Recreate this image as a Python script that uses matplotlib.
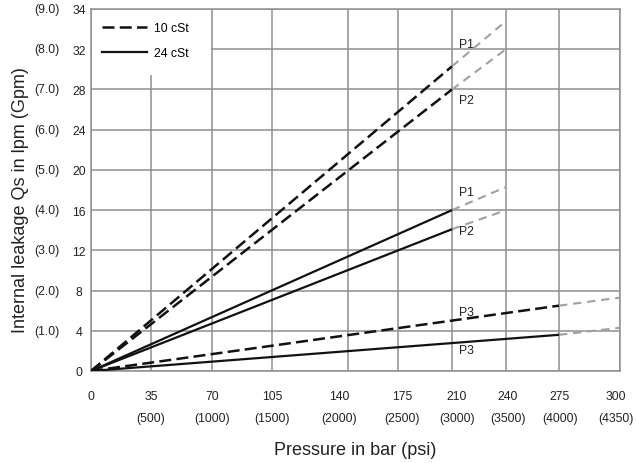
import numpy as np
import matplotlib
matplotlib.use("Agg")
import matplotlib.pyplot as plt
import matplotlib.transforms as mtransforms
from matplotlib.patches import Rectangle

plt.rcParams['font.family'] = ['Liberation Sans', 'DejaVu Sans']

# axis ticks (the chart's axes are not linear, ticks are evenly-ish spaced)
pressure_ticks = [0, 35, 70, 105, 140, 175, 210, 240, 275, 300]
psi_labels = ['', '(500)', '(1000)', '(1500)', '(2000)', '(2500)', '(3000)', '(3500)', '(4000)', '(4350)']
flow_ticks = [0, 4, 8, 12, 16, 20, 24, 28, 32, 34]
gpm_labels = ['', '(1.0)', '(2.0)', '(3.0)', '(4.0)', '(5.0)', '(6.0)', '(7.0)', '(8.0)', '(9.0)']

# leakage lines: measured part (black) and extrapolated part (gray)
p1_10_x = [0, 210]
p1_10_y = [0, 30.3]
p1_10_ext_x = [210, 240]
p1_10_ext_y = [30.3, 33.4]

p2_10_x = [0, 210]
p2_10_y = [0, 28.0]
p2_10_ext_x = [210, 240]
p2_10_ext_y = [28.0, 32.0]

p1_24_x = [0, 210]
p1_24_y = [0, 16.0]
p1_24_ext_x = [210, 240]
p1_24_ext_y = [16.0, 18.3]

p2_24_x = [0, 210]
p2_24_y = [0, 14.1]
p2_24_ext_x = [210, 240]
p2_24_ext_y = [14.1, 16.0]

p3_10_x = [0, 275]
p3_10_y = [0, 6.5]
p3_10_ext_x = [275, 300]
p3_10_ext_y = [6.5, 7.3]

p3_24_x = [0, 275]
p3_24_y = [0, 3.6]
p3_24_ext_x = [275, 300]
p3_24_ext_y = [3.6, 4.3]

# curve labels
curve_names = ['P1', 'P2', 'P1', 'P2', 'P3', 'P3']
curve_label_x = [214, 214, 214, 214, 214, 214]
curve_label_y = [32.25, 27.0, 17.8, 13.9, 5.9, 2.1]

# where each tick sits along the axis (pixel spacing taken from the chart)
x_grid_pos = np.array([0, 60, 121, 181, 257, 307, 361, 415, 468, 529], dtype=float)
y_grid_pos = np.arange(len(flow_ticks), dtype=float)
# small sideways shifts of the x tick labels (pixels), as in the chart
x_label_shift = [0, 0, 0, 0, -9, 4, 5, 2, 1, -4]


def x_fwd(v):
    return np.interp(v, pressure_ticks, x_grid_pos)


def x_inv(v):
    return np.interp(v, x_grid_pos, pressure_ticks)


def y_fwd(v):
    return np.interp(v, flow_ticks, y_grid_pos)


def y_inv(v):
    return np.interp(v, y_grid_pos, flow_ticks)


fig = plt.figure(figsize=(6.36, 4.64), dpi=100)
ax = fig.add_axes([91 / 636, 1 - 372 / 464, 529 / 636, 362 / 464])

ax.set_xscale('function', functions=(x_fwd, x_inv))
ax.set_yscale('function', functions=(y_fwd, y_inv))
ax.set_xlim(0, 300)
ax.set_ylim(0, 34)

grid_col = '#8f8f8f'
ax.set_axisbelow(True)
ax.grid(True, color=grid_col, linewidth=1.1)
for s in ax.spines.values():
    s.set_color(grid_col)
    s.set_linewidth(1.1)

# white area behind the legend
ax.add_patch(Rectangle((0.002, 0.818), 0.224, 0.18, transform=ax.transAxes,
                       facecolor='white', edgecolor='none', zorder=1))

black_dash = dict(color='#111111', linewidth=1.8, linestyle=(0, (4.8, 2.1)), zorder=3)
black_solid = dict(color='#111111', linewidth=1.6, linestyle='-', zorder=3)
gray_dash = dict(color='#a0a0a0', linewidth=1.5, linestyle=(0, (4, 2.8)), zorder=3)

ax.plot(p1_10_x, p1_10_y, **black_dash)
ax.plot(p2_10_x, p2_10_y, **black_dash)
ax.plot(p3_10_x, p3_10_y, **black_dash)
ax.plot(p1_24_x, p1_24_y, **black_solid)
ax.plot(p2_24_x, p2_24_y, **black_solid)
ax.plot(p3_24_x, p3_24_y, **black_solid)

for ex, ey in [(p1_10_ext_x, p1_10_ext_y), (p2_10_ext_x, p2_10_ext_y),
               (p1_24_ext_x, p1_24_ext_y), (p2_24_ext_x, p2_24_ext_y),
               (p3_10_ext_x, p3_10_ext_y), (p3_24_ext_x, p3_24_ext_y)]:
    ax.plot(ex, ey, **gray_dash)

for name, lx, ly in zip(curve_names, curve_label_x, curve_label_y):
    ax.text(lx, ly, name, fontsize=8.8, color='#222222', ha='left', va='center', zorder=4)

# legend
h1, = ax.plot([], [], label='10 cSt', **black_dash)
h2, = ax.plot([], [], label='24 cSt', **black_solid)
ax.legend(handles=[h1, h2], loc='upper left', bbox_to_anchor=(0.02, 0.963),
          frameon=False, fontsize=8.8, handlelength=3.7, handletextpad=0.6,
          labelspacing=1.05, borderpad=0, borderaxespad=0)

# ticks
ax.set_xticks(pressure_ticks)
ax.set_xticklabels([f'{p}\n{q}' for p, q in zip(pressure_ticks, psi_labels)],
                   fontsize=8.8, linespacing=2.05, color='#222222')
ax.set_yticks(flow_ticks)
ax.set_yticklabels([str(v) for v in flow_ticks], fontsize=8.8, color='#222222')
for lab in ax.get_yticklabels():
    lab.set_ha('center')
ax.tick_params(axis='y', length=0, pad=8.6)
ax.tick_params(axis='x', length=0, pad=14)
ax.minorticks_off()

for lab, dx in zip(ax.get_xticklabels(), x_label_shift):
    off = mtransforms.ScaledTranslation(dx / 100, 0, fig.dpi_scale_trans)
    lab.set_transform(lab.get_transform() + off)

for v, lab in zip(flow_ticks, gpm_labels):
    if lab:
        ax.text(-0.083, v, lab, transform=ax.get_yaxis_transform(), fontsize=8.8,
                ha='center', va='center', color='#222222')

ax.set_xlabel('Pressure in bar (psi)', fontsize=13, color='#222222')
ax.xaxis.set_label_coords(0.5, -0.193)
ax.set_ylabel('Internal leakage Qs in lpm (Gpm)', fontsize=13, color='#222222')
ax.yaxis.set_label_coords(-0.117, 0.475)

fig.savefig('out.png', dpi=100)
